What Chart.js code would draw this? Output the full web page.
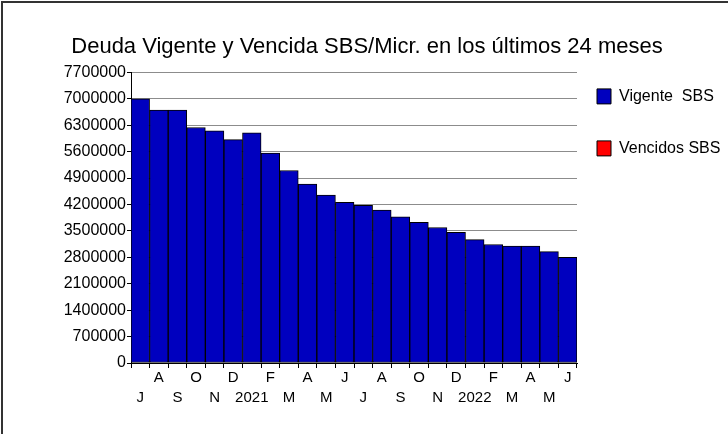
<!DOCTYPE html>
<html>
<head>
<meta charset="utf-8">
<script src="https://cdn.jsdelivr.net/npm/chart.js@4/dist/chart.umd.min.js"></script>
<style>
  body { margin: 0; background: #fff; }
  #wrap { position: relative; width: 728px; height: 434px; overflow: hidden; }
  canvas { display: block; }
  .borde { position: absolute; background: #333; z-index: 2; }
</style>
</head>
<body>
<div id="wrap">
  <canvas id="chart" width="728" height="434"></canvas>
  <div class="borde" style="left:1px; top:1px; width:727px; height:2px;"></div>
  <div class="borde" style="left:1px; top:1px; width:2px; height:433px;"></div>
</div>
<script>
// meses jul 2020 - jun 2022
const meses = ["J", "A", "S", "O", "N", "D", "2021", "F", "M", "A", "M", "J",
  "J", "A", "S", "O", "N", "D", "2022", "F", "M", "A", "M", "J"];

const vigente = [7000000, 6700000, 6700000, 6240000, 6150000, 5920000, 6100000, 5560000,
  5100000, 4740000, 4450000, 4260000, 4180000, 4050000, 3870000, 3730000,
  3590000, 3460000, 3270000, 3140000, 3100000, 3100000, 2950000, 2800000];

const vencidos = [0, 0, 0, 0, 0, 0, 0, 0, 0, 0, 0, 0,
  0, 0, 0, 0, 0, 0, 0, 0, 0, 0, 0, 0];

const yTicks = [0, 700000, 1400000, 2100000, 2800000, 3500000, 4200000,
  4900000, 5600000, 6300000, 7000000, 7700000];

// la leyenda empieza junto al area del grafico, un poco mas arriba
const moverLeyenda = {
  id: "moverLeyenda",
  afterLayout(chart) {
    chart.legend.left -= 16;
    chart.legend.top = chart.chartArea.top - 20;
  }
};

const ctx = document.getElementById("chart").getContext("2d");
const chart = new Chart(ctx, {
  type: "bar",
  data: {
    labels: meses,
    datasets: [
      {
        label: "Vigente  SBS",
        data: vigente,
        backgroundColor: "#0000bf",
        borderColor: "#000",
        borderWidth: 1,
        borderSkipped: false
      },
      {
        label: "Vencidos SBS",
        data: vencidos,
        backgroundColor: "#ff0000",
        borderColor: "#000",
        borderWidth: 1,
        borderSkipped: false
      }
    ]
  },
  plugins: [moverLeyenda],
  options: {
    responsive: false,
    animation: false,
    barPercentage: 1,
    categoryPercentage: 1,
    layout: { padding: { left: 6, top: 0, right: 0, bottom: 26 } },
    plugins: {
      title: {
        display: true,
        text: "Deuda Vigente y Vencida SBS/Micr. en los últimos 24 meses",
        color: "#000",
        font: { family: "Liberation Sans", size: 22, weight: "normal", lineHeight: 1.2 },
        padding: { top: 34, bottom: 12 }
      },
      legend: {
        position: "right",
        align: "start",
        maxWidth: 151,
        labels: {
          color: "#000",
          font: { family: "Liberation Sans", size: 16 },
          boxWidth: 14,
          boxHeight: 15,
          padding: 36
        }
      },
      tooltip: { enabled: false }
    },
    scales: {
      x: {
        stacked: true,
        border: { color: "#000", width: 1 },
        grid: { display: true, drawOnChartArea: false, tickLength: 5, tickColor: "#000", offset: true },
        ticks: {
          color: "#000",
          autoSkip: false,
          maxRotation: 0,
          padding: 0,
          font: { family: "Liberation Sans", size: 15, lineHeight: "20px" },
          callback: function (val, i) {
            const m = meses[i];
            return i % 2 === 0 ? ["", m] : [m, ""];
          }
        }
      },
      y: {
        stacked: true,
        min: 0,
        max: 7700000,
        afterFit: function (scale) { scale.width = 125; },
        afterBuildTicks: function (scale) {
          scale.ticks = yTicks.map(v => ({ value: v }));
        },
        border: { color: "#000", width: 1 },
        grid: { color: "#8c8c8c", tickColor: "#000", tickLength: 4 },
        ticks: {
          color: "#000",
          padding: 1,
          font: { family: "Liberation Sans", size: 16 },
          callback: v => String(v)
        }
      }
    }
  }
});
</script>
</body>
</html>
